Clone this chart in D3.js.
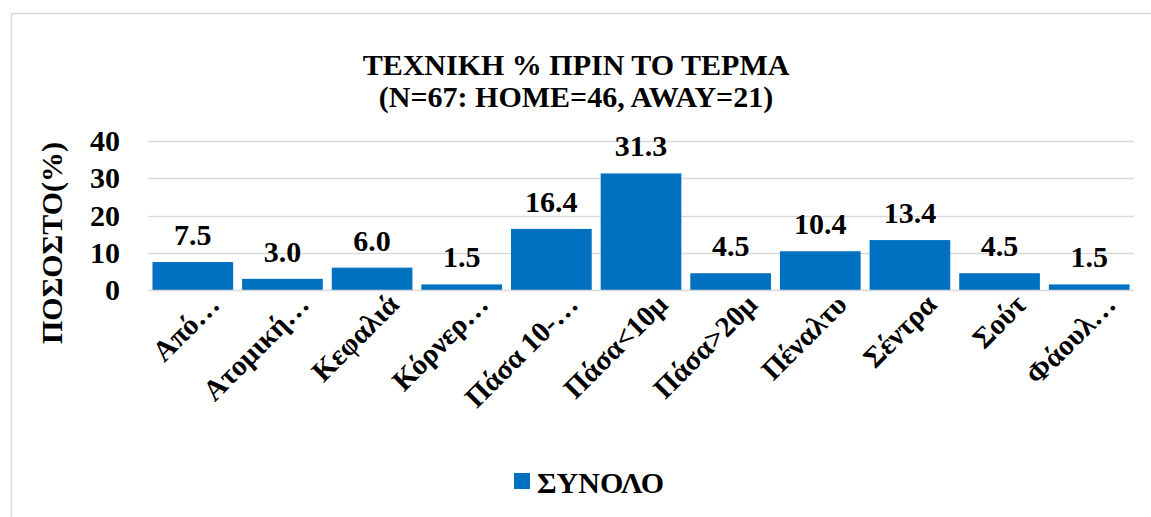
<!DOCTYPE html>
<html>
<head>
<meta charset="utf-8">
<script src="https://cdn.jsdelivr.net/npm/d3@7"></script>
</head>
<body style="margin:0;padding:0;background:#fff">
<svg id="chart" width="1151" height="517" style="display:block"></svg>
<script>
const categories = ["Από…", "Ατομική…", "Κεφαλιά", "Κόρνερ…", "Πάσα 10-…", "Πάσα<10μ", "Πάσα>20μ", "Πέναλτυ", "Σέντρα", "Σούτ", "Φάουλ…"];
const values = [7.5, 3.0, 6.0, 1.5, 16.4, 31.3, 4.5, 10.4, 13.4, 4.5, 1.5];
const yTicks = [0, 10, 20, 30, 40];
const titleLines = ["ΤΕΧΝΙΚΗ % ΠΡΙΝ ΤΟ ΤΕΡΜΑ", "(N=67: HOME=46, AWAY=21)"];
const yAxisTitle = "ΠΟΣΟΣΤΟ(%)";
const seriesName = "ΣΥΝΟΛΟ";

const FONT = "Liberation Serif";
const svg = d3.select("#chart");
const plot = { left: 148, right: 1134, top: 141, bottom: 290 };
const barColor = "#0070C0";

// chart border
svg.append("rect").attr("x", 11.5).attr("y", 13.5).attr("width", 1300).attr("height", 700)
  .attr("fill", "#fff").attr("stroke", "#d9d9d9").attr("stroke-width", 1.5);

const x = d3.scaleBand().domain(categories).range([plot.left, plot.right]).paddingInner(0.1).paddingOuter(0.05);
const y = d3.scaleLinear().domain([0, 40]).range([plot.bottom, plot.top]);

// gridlines
svg.append("g").selectAll("line").data(yTicks.filter(d => d > 0)).join("line")
  .attr("x1", plot.left).attr("x2", plot.right)
  .attr("y1", d => Math.round(y(d)) + 0.5).attr("y2", d => Math.round(y(d)) + 0.5)
  .attr("stroke", "#d9d9d9").attr("stroke-width", 1.5);

// bars
svg.append("g").selectAll("rect").data(values).join("rect")
  .attr("x", (d, i) => x(categories[i]))
  .attr("width", x.bandwidth())
  .attr("y", d => y(d))
  .attr("height", d => y(0) - y(d))
  .attr("fill", barColor);

// baseline axis
svg.append("line").attr("x1", plot.left).attr("x2", plot.right)
  .attr("y1", y(0) + 0.5).attr("y2", y(0) + 0.5)
  .attr("stroke", "#d9d9d9").attr("stroke-width", 1.5);

// y axis labels
const yAxis = d3.axisLeft(y).tickValues(yTicks).tickSize(0).tickPadding(28);
const gy = svg.append("g").attr("transform", `translate(${plot.left},0)`).call(yAxis);
gy.select(".domain").remove();
gy.attr("font-family", FONT).attr("font-size", 30);
gy.selectAll("text").attr("font-family", FONT).attr("font-size", 30).attr("font-weight", "bold").attr("fill", "#000");

// value labels
svg.append("g").selectAll("text").data(values).join("text")
  .attr("x", (d, i) => x(categories[i]) + x.bandwidth() / 2)
  .attr("y", d => y(d) - 17)
  .attr("text-anchor", "middle")
  .attr("font-family", FONT).attr("font-weight", "bold").attr("font-size", 30).attr("fill", "#000")
  .text(d => d.toFixed(1));

// x labels rotated
const xAxis = d3.axisBottom(x).tickSize(0).tickPadding(0);
const gx = svg.append("g").attr("transform", `translate(0,${plot.bottom})`).call(xAxis);
gx.select(".domain").remove();
gx.attr("font-family", FONT).attr("font-size", 29);
gx.selectAll("text")
  .attr("font-family", FONT).attr("font-size", 29).attr("font-weight", "bold").attr("fill", "#000")
  .attr("text-anchor", "end")
  .attr("transform", "translate(14,2) rotate(-45)")
  .attr("dy", "0.7em").attr("y", 0).attr("x", 0);

// y axis title
svg.append("text")
  .attr("transform", `translate(62,243) rotate(-90)`)
  .attr("text-anchor", "middle")
  .attr("font-family", FONT).attr("font-weight", "bold").attr("font-size", 30).attr("fill", "#000")
  .text(yAxisTitle);

// title
svg.append("g").selectAll("text").data(titleLines).join("text")
  .attr("x", 576).attr("y", (d, i) => 75 + i * 32)
  .attr("text-anchor", "middle")
  .attr("font-family", FONT).attr("font-weight", "bold").attr("font-size", 30).attr("fill", "#000")
  .text(d => d);

// legend
svg.append("rect").attr("x", 514).attr("y", 473).attr("width", 16).attr("height", 16).attr("fill", barColor);
svg.append("text").attr("x", 537).attr("y", 493)
  .attr("font-family", FONT).attr("font-weight", "bold").attr("font-size", 30).attr("fill", "#000")
  .text(seriesName);
</script>
</body>
</html>
